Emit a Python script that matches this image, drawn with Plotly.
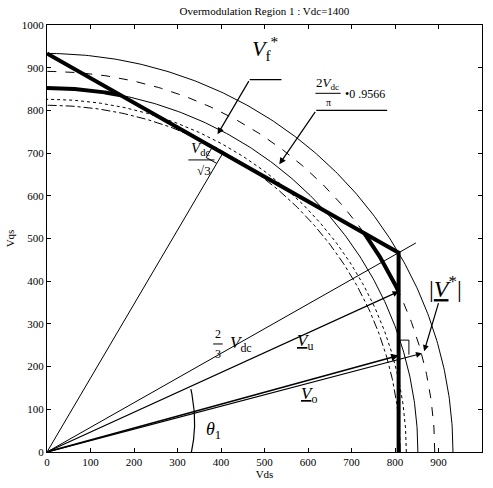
import numpy as np
import plotly.graph_objects as go

# Operating point
VDC = 1400.0

# Reference circles (radius, dash style)
circle_radii = [933.3, 891.3, 852.6, 826.0, 812.0]
circle_dash = ["solid", "dash", "solid", "dot", "dashdot"]

# Hexagon boundary in the first quadrant
hex_x = [0.0, 808.3, 808.3]
hex_y = [933.3, 466.7, 0.0]

# Pieces of the modified reference trajectory (radius, start angle, end angle in degrees)
traj_arcs = [(852.6, 90.0, 78.5), (891.3, 35.1, 24.9)]

# Vectors drawn from the origin (tip x, tip y)
vec_perp = (404.2, 700.0)      # Vdc/sqrt(3) normal to the hexagon edge
vec_vertex = (848.0, 489.6)    # 2/3 Vdc through the hexagon vertex
vec_u = (808.3, 376.0)         # V_u
vec_o1 = (808.3, 226.0)        # V_o
vec_o2 = (862.0, 231.0)        # V*

# Angle marker theta_1 (radius grows from start to end)
theta_r = [332.0, 362.0]
theta_deg = [0.0, 24.0]

BLACK = "black"
FONT = "Liberation Serif"

fig = go.Figure()


def arc(r0, r1, a0, a1, n=200):
    t = np.radians(np.linspace(a0, a1, n))
    r = np.linspace(r0, r1, n)
    return r * np.cos(t), r * np.sin(t)


def seg(xs, ys, width=1.0, dash="solid"):
    fig.add_trace(go.Scatter(x=xs, y=ys, mode="lines",
                             line=dict(color=BLACK, width=width, dash=dash),
                             hoverinfo="skip", showlegend=False))


for r, d in zip(circle_radii, circle_dash):
    x, y = arc(r, r, 0, 90)
    seg(x, y, 1, d)

# Thick trajectory: hexagon edges plus arc segments
seg(hex_x, hex_y, 4)
for r, a0, a1 in traj_arcs:
    x, y = arc(r, r, a0, a1)
    seg(x, y, 4)

# Thin radial lines
for tip in (vec_perp, vec_vertex):
    seg([0, tip[0]], [0, tip[1]], 1)

# theta_1 arc
tx, ty = arc(theta_r[0], theta_r[1], theta_deg[0], theta_deg[1])
seg(tx, ty, 1.2)

# Right-angle markers
s = 28.0
fx, fy = vec_perp
e = np.array([-np.cos(np.radians(30)), np.sin(np.radians(30))])
u = -np.array([np.cos(np.radians(60)), np.sin(np.radians(60))])
p0 = np.array([fx, fy])
sq = [p0 + s * e, p0 + s * e + s * u, p0 + s * u]
seg([q[0] for q in sq], [q[1] for q in sq], 1)
seg([808.3, 832, 832], [262, 262, 228], 1)

ann = []


def arrow(x0, y0, x1, y1, w=1.2, head=2, size=1.0):
    ann.append(dict(x=x1, y=y1, ax=x0, ay=y0, xref="x", yref="y",
                    axref="x", ayref="y", showarrow=True, arrowhead=head,
                    arrowsize=size, arrowwidth=w, arrowcolor=BLACK, text=""))


def label(x, y, text, size=14, xanchor="center"):
    ann.append(dict(x=x, y=y, xref="x", yref="y", text=text, showarrow=False,
                    xanchor=xanchor, font=dict(family=FONT, size=size, color=BLACK)))


# Vectors with arrowheads
arrow(0, 0, vec_u[0], vec_u[1], w=1.2)
arrow(0, 0, vec_o1[0], vec_o1[1], w=1.5)
arrow(0, 0, vec_o2[0], vec_o2[1], w=1.2)
arrow(tx[-8], ty[-8], tx[-1], ty[-1], w=1.2)

# Leader lines for the labels
seg([466, 539], [872, 872], 1.2)
arrow(466, 872, 392, 744, w=1.2, head=2, size=1.1)
seg([619, 782], [800, 800], 1.2)
arrow(619, 800, 534, 674, w=1.2, head=2, size=1.1)
arrow(901, 352, 867, 236, w=1.2, head=2)

# Fraction bars
for xs, yv in (([325, 385], 684), ([382, 404], 253), ([617, 675], 840)):
    seg(xs, [yv, yv], 1)

label(500, 945, "<i>V</i><sub>f</sub><sup>*</sup>", size=22)
label(645, 862, "2<i>V</i><sub>dc</sub>", size=13)
label(646, 818, "π", size=10)
label(680, 838, "•0 .9566", size=12, xanchor="left")
label(352, 710, "<i>V</i><sub>dc</sub>", size=15)
label(360, 660, "√3", size=13)
label(393, 276, "2", size=12)
label(393, 230, "3", size=12)
label(445, 252, "<i>V</i><sub>dc</sub>", size=17)
label(592, 258, "<u><i>V</i></u><sub>u</sub>", size=17)
label(602, 133, "<u><i>V</i></u><sub>o</sub>", size=17)
label(383, 50, "<i>θ</i><sub>1</sub>", size=18)
label(917, 386, "|<u><i>V</i></u><sup>*</sup>|", size=24)

ticks = list(range(0, 1001, 100))
axis_style = dict(range=[0, 1000], tickvals=ticks, ticktext=[str(t) for t in ticks],
                  ticks="inside", ticklen=4, tickcolor=BLACK, showline=True,
                  linecolor=BLACK, linewidth=1, mirror="ticks", showgrid=False,
                  zeroline=False, tickfont=dict(family=FONT, size=11, color=BLACK))

fig.update_layout(
    width=493, height=488,
    margin=dict(l=47, r=10, t=25, b=33),
    paper_bgcolor="white", plot_bgcolor="white",
    title=dict(text="Overmodulation Region 1 : Vdc=1400", x=0.5, xref="paper",
               y=0.985, yanchor="top",
               font=dict(family=FONT, size=11, color=BLACK)),
    xaxis=dict(axis_style, title=dict(text="Vds", standoff=2,
                                      font=dict(family=FONT, size=11, color=BLACK))),
    yaxis=dict(axis_style, title=dict(text="Vqs", standoff=4,
                                      font=dict(family=FONT, size=11, color=BLACK))),
    annotations=ann,
)

fig.write_html("out.html")
